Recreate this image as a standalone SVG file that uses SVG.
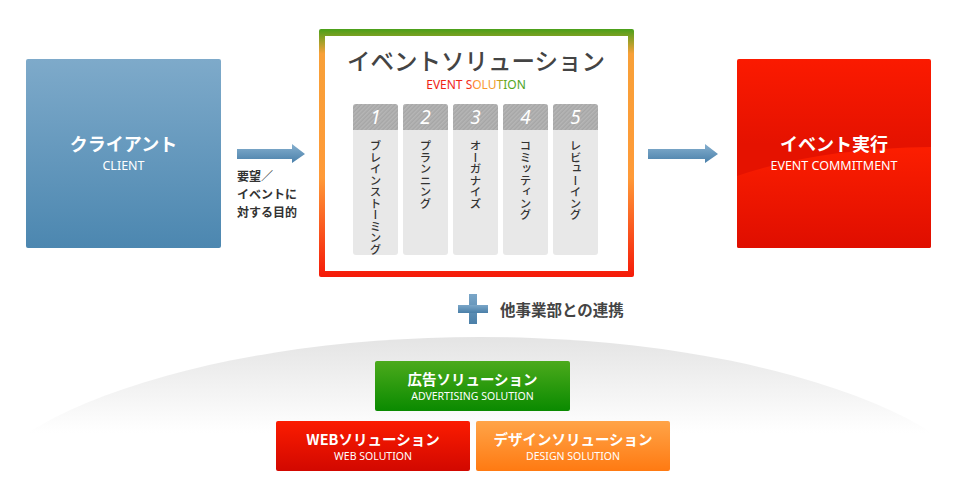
<svg xmlns="http://www.w3.org/2000/svg" width="960" height="500" viewBox="0 0 960 500">
<defs>
<style>
.jp{font-family:"Noto Sans CJK JP","Noto Sans",sans-serif;}
.w{fill:#fff;text-anchor:middle;}
.big{font-size:18px;font-weight:bold;}
.sub{font-family:"Noto Sans","Noto Sans CJK JP",sans-serif;font-size:12.5px;}
.mid{font-size:14.5px;font-weight:bold;}
.small{font-family:"Noto Sans","Noto Sans CJK JP",sans-serif;font-size:10.5px;}
.col{fill:#e8e8e8;}
.num{font-family:"Noto Sans",sans-serif;font-style:italic;font-size:19px;fill:#fff;text-anchor:middle;}
.vt{font-size:11.5px;fill:#333;writing-mode:tb;font-weight:500;}
.arr{fill:url(#gArrow);}
</style>
<linearGradient id="gClient" x1="0" y1="0" x2="0" y2="1"><stop offset="0" stop-color="#7eaaca"/><stop offset="1" stop-color="#4c87b0"/></linearGradient>
<linearGradient id="gArrow" x1="0" y1="0" x2="0" y2="1"><stop offset="0" stop-color="#86b0cf"/><stop offset="1" stop-color="#4a80aa"/></linearGradient>
<linearGradient id="gFrame" x1="0" y1="0" x2="0" y2="1"><stop offset="0" stop-color="#4aa01a"/><stop offset="0.1" stop-color="#f8a038"/><stop offset="0.6" stop-color="#ff9a38"/><stop offset="1" stop-color="#f51a08"/></linearGradient>
<linearGradient id="gRed" x1="0" y1="0" x2="0" y2="1"><stop offset="0" stop-color="#fb1a00"/><stop offset="0.45" stop-color="#e51200"/><stop offset="1" stop-color="#e51200"/></linearGradient>
<linearGradient id="gRed2" x1="0" y1="0" x2="0" y2="1"><stop offset="0" stop-color="#fc1e00"/><stop offset="1" stop-color="#df0e00"/></linearGradient>
<linearGradient id="gGreen" x1="0" y1="0" x2="0" y2="1"><stop offset="0" stop-color="#4caa1c"/><stop offset="1" stop-color="#0a8a00"/></linearGradient>
<linearGradient id="gWeb" x1="0" y1="0" x2="0" y2="1"><stop offset="0" stop-color="#fb1c00"/><stop offset="1" stop-color="#d20800"/></linearGradient>
<linearGradient id="gOrange" x1="0" y1="0" x2="0" y2="1"><stop offset="0" stop-color="#ffa448"/><stop offset="1" stop-color="#ff7a12"/></linearGradient>
<linearGradient id="gGround" x1="0" y1="0" x2="0" y2="1"><stop offset="0" stop-color="#e4e4e4"/><stop offset="0.24" stop-color="#ffffff"/><stop offset="1" stop-color="#ffffff"/></linearGradient>
<linearGradient id="gPlus" x1="0" y1="0" x2="0" y2="1"><stop offset="0" stop-color="#7aa6c8"/><stop offset="1" stop-color="#4a7fa8"/></linearGradient>
<linearGradient id="gTitle" x1="0" y1="0" x2="1" y2="0"><stop offset="0" stop-color="#ee2010"/><stop offset="0.42" stop-color="#f02818"/><stop offset="0.5" stop-color="#ff9a30"/><stop offset="0.7" stop-color="#f29a20"/><stop offset="0.8" stop-color="#5aa81a"/><stop offset="1" stop-color="#4a9e18"/></linearGradient>
<pattern id="hatch" width="3" height="3" patternUnits="userSpaceOnUse" patternTransform="rotate(45)"><rect width="3" height="3" fill="#a6a6a6"/><rect width="1.5" height="3" fill="#b6b6b6"/></pattern>
</defs>
<rect width="960" height="500" fill="#fff"/>
<ellipse cx="480" cy="537" rx="530" ry="200" fill="url(#gGround)"/>

<g id="connectors">
<path class="arr" d="M237 149 H292 V144 L305 154 L292 163 V159 H237 Z"/>
<path class="arr" d="M648 149 H705 V144 L718 154 L705 163 V159 H648 Z"/>
<g class="jp" font-size="12" font-weight="bold" fill="#333">
<text x="237" y="181">要望／</text>
<text x="237" y="199">イベントに</text>
<text x="237" y="217">対する目的</text>
</g>
</g>

<g id="client">
<rect x="26" y="59" width="195" height="189" rx="2" fill="url(#gClient)"/>
<text class="jp w big" x="123.5" y="151">クライアント</text>
<text class="sub w" x="123.5" y="170">CLIENT</text>
</g>

<g id="event-solution">
<rect x="319" y="29" width="315" height="248" rx="2" fill="url(#gFrame)"/>
<rect x="325" y="36" width="303" height="235" fill="#fff"/>
<text class="jp" x="476" y="70" font-size="23.5" font-weight="500" fill="#444" text-anchor="middle">イベントソリューション</text>
<text x="476" y="89" font-family="Noto Sans, sans-serif" font-size="12" fill="url(#gTitle)" text-anchor="middle">EVENT SOLUTION</text>
<g id="step1">
<rect class="col" x="353" y="104" width="45" height="151" rx="3"/>
<path d="M353 130 V107 Q353 104 356 104 H395 Q398 104 398 107 V130 Z" fill="url(#hatch)"/>
<text class="num" x="375.5" y="124">1</text>
<text class="jp vt" x="375.5" y="140">ブレインストーミング</text>
</g>
<g id="step2">
<rect class="col" x="403" y="104" width="45" height="151" rx="3"/>
<path d="M403 130 V107 Q403 104 406 104 H445 Q448 104 448 107 V130 Z" fill="url(#hatch)"/>
<text class="num" x="425.5" y="124">2</text>
<text class="jp vt" x="425.5" y="140">プランニング</text>
</g>
<g id="step3">
<rect class="col" x="453" y="104" width="45" height="151" rx="3"/>
<path d="M453 130 V107 Q453 104 456 104 H495 Q498 104 498 107 V130 Z" fill="url(#hatch)"/>
<text class="num" x="475.5" y="124">3</text>
<text class="jp vt" x="475.5" y="140">オーガナイズ</text>
</g>
<g id="step4">
<rect class="col" x="503" y="104" width="45" height="151" rx="3"/>
<path d="M503 130 V107 Q503 104 506 104 H545 Q548 104 548 107 V130 Z" fill="url(#hatch)"/>
<text class="num" x="525.5" y="124">4</text>
<text class="jp vt" x="525.5" y="140">コミッティング</text>
</g>
<g id="step5">
<rect class="col" x="553" y="104" width="45" height="151" rx="3"/>
<path d="M553 130 V107 Q553 104 556 104 H595 Q598 104 598 107 V130 Z" fill="url(#hatch)"/>
<text class="num" x="575.5" y="124">5</text>
<text class="jp vt" x="575.5" y="140">レビューイング</text>
</g>
</g>

<g id="event-commitment">
<rect x="737" y="59" width="194" height="189" rx="2" fill="url(#gRed)"/>
<path d="M737 176 Q820 148 931 147 V246 Q931 248 929 248 H739 Q737 248 737 246 Z" fill="url(#gRed2)"/>
<text class="jp w big" x="834" y="151">イベント実行</text>
<text class="sub w" x="834" y="170">EVENT COMMITMENT</text>
</g>

<g id="collaboration">
<rect x="469" y="294" width="8" height="30" fill="url(#gPlus)"/>
<rect x="458" y="305" width="30" height="8" fill="url(#gPlus)"/>
<text class="jp" x="500" y="316" font-size="15.5" font-weight="bold" fill="#444">他事業部との連携</text>
</g>

<g id="ad-solution">
<rect x="375" y="361" width="195" height="50" rx="2" fill="url(#gGreen)"/>
<text class="jp w mid" x="472.5" y="385">広告ソリューション</text>
<text class="small w" x="472.5" y="400">ADVERTISING SOLUTION</text>
</g>

<g id="web-solution">
<rect x="276" y="421" width="194" height="50" rx="2" fill="url(#gWeb)"/>
<text class="jp w mid" x="373" y="445">WEBソリューション</text>
<text class="small w" x="373" y="460">WEB SOLUTION</text>
</g>

<g id="design-solution">
<rect x="476" y="421" width="194" height="50" rx="2" fill="url(#gOrange)"/>
<text class="jp w mid" x="573" y="445">デザインソリューション</text>
<text class="small w" x="573" y="460">DESIGN SOLUTION</text>
</g>
</svg>
